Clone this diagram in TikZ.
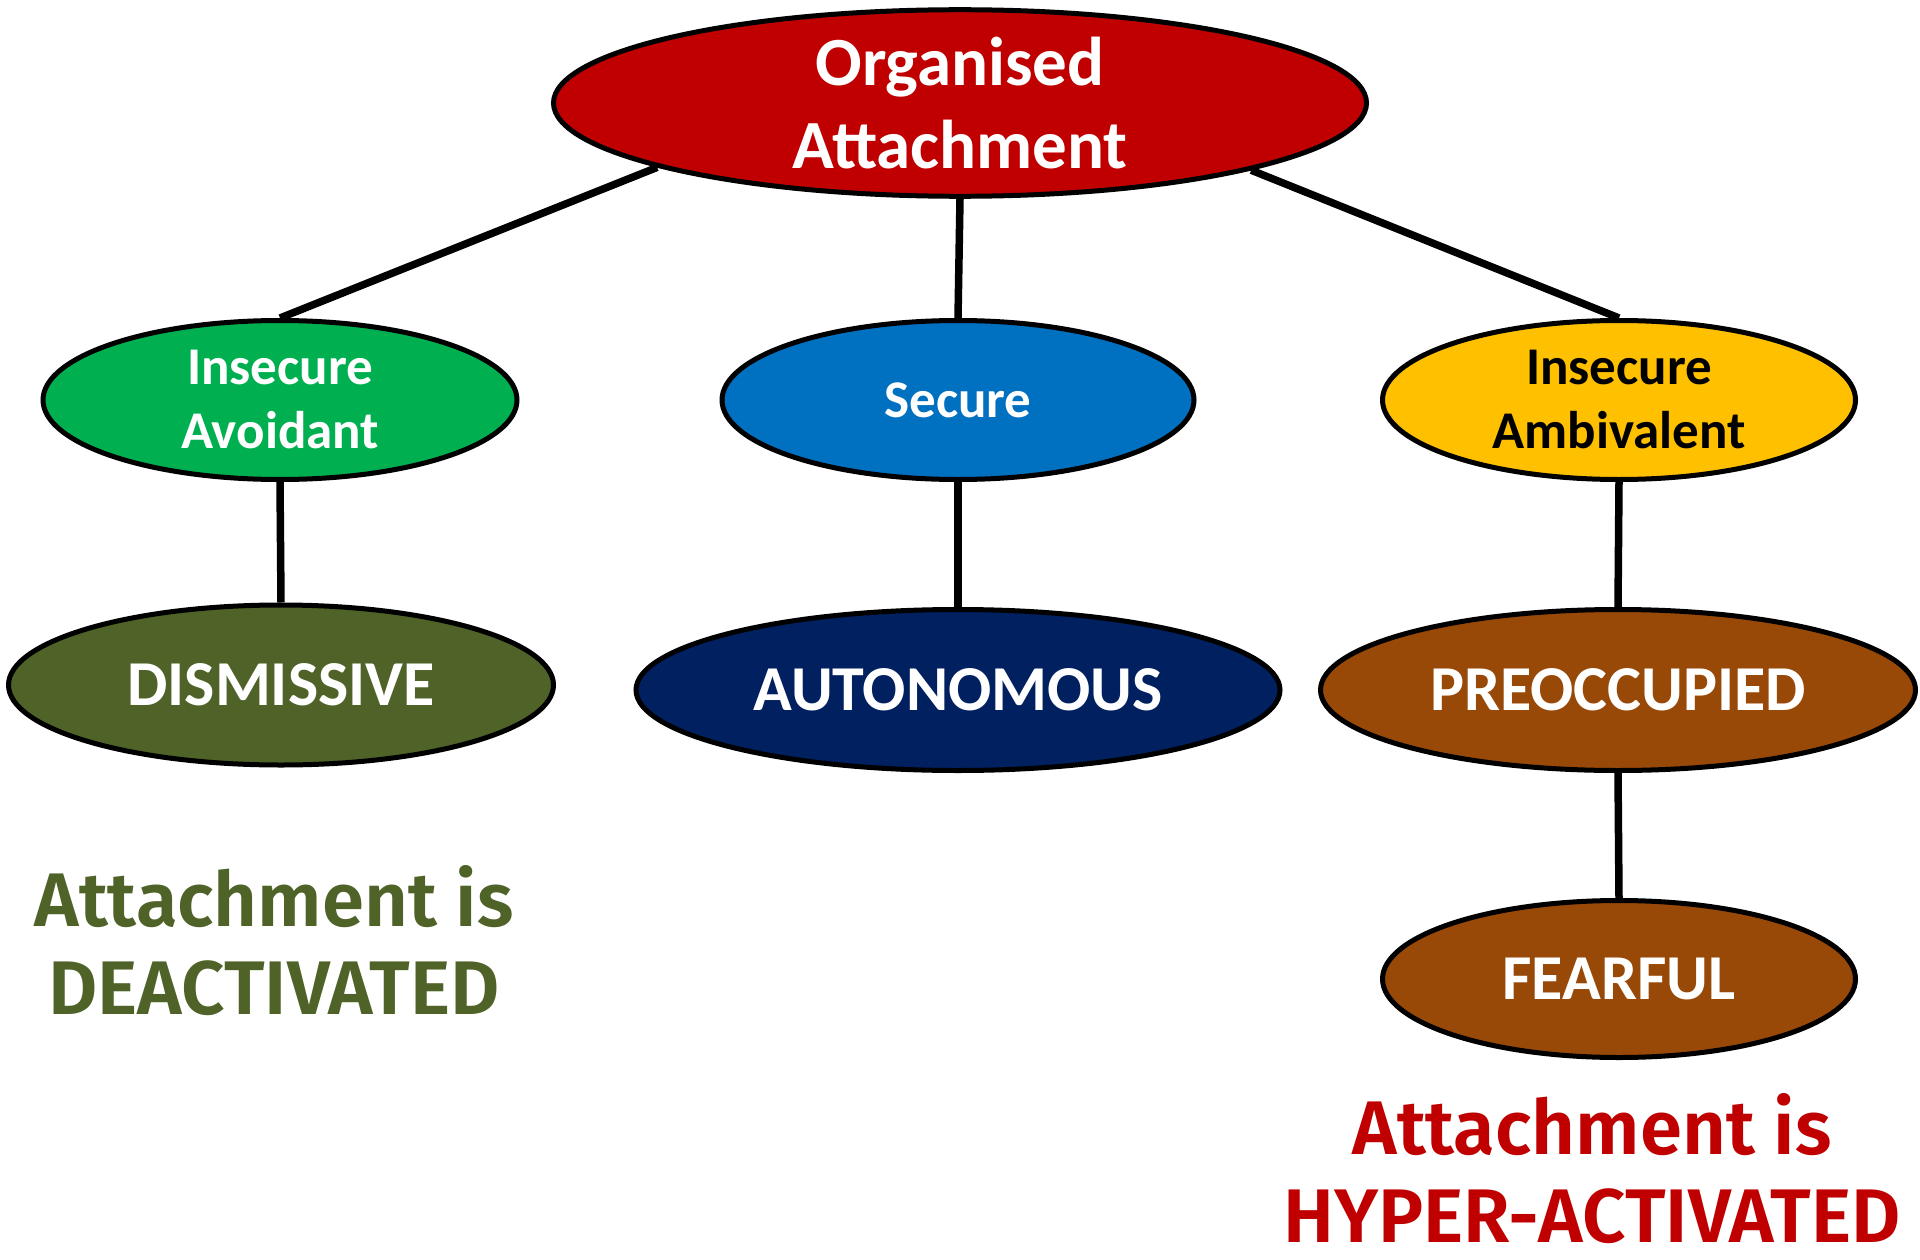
\documentclass[tikz,border=0pt]{standalone}
\usepackage{fontspec}
\setmainfont{Carlito}
\newfontfamily\capfont{Fira Sans}[BoldFont={Fira Sans SemiBold}]
\usetikzlibrary{shapes.geometric}

\definecolor{orgred}{HTML}{C00000}
\definecolor{avgreen}{HTML}{00B050}
\definecolor{secblue}{HTML}{0070C0}
\definecolor{ambyellow}{HTML}{FFC000}
\definecolor{disolive}{HTML}{4F6228}
\definecolor{autnavy}{HTML}{002060}
\definecolor{prebrown}{HTML}{984807}

\tikzset{
  bubble/.style={ellipse, draw=black, line width=5pt, inner sep=0pt,
    align=center, text=white, font=\bfseries},
  link/.style={draw=black, line width=7.5pt},
  caption/.style={align=center, inner sep=0pt, text depth=0pt,
    font=\capfont\bfseries\fontsize{76}{88}\selectfont}
}

\begin{document}
\begin{tikzpicture}[x=1pt, y=-1pt]
\useasboundingbox (0,0) rectangle (1920,1260);

% top level
\node[bubble, fill=orgred, minimum width=813pt, minimum height=181pt,
      font=\bfseries\fontsize{69}{83}\selectfont] (org) at (960,103)
  {Organised\\Attachment};

% second level
\node[bubble, fill=avgreen, minimum width=474pt, minimum height=159pt,
      font=\bfseries\fontsize{53}{64}\selectfont] (avoid) at (280,400)
  {Insecure\\Avoidant};
\node[bubble, fill=secblue, minimum width=472pt, minimum height=159pt,
      font=\bfseries\fontsize{53}{64}\selectfont] (secure) at (958,400)
  {Secure};
\node[bubble, fill=ambyellow, text=black, minimum width=473pt, minimum height=159pt,
      font=\bfseries\fontsize{53}{64}\selectfont] (ambiv) at (1619,400)
  {Insecure\\Ambivalent};

% adult categories
\node[bubble, fill=disolive, minimum width=545pt, minimum height=160pt,
      font=\bfseries\fontsize{64}{76}\selectfont] (dismiss) at (281,685)
  {DISMISSIVE};
\node[bubble, fill=autnavy, minimum width=644pt, minimum height=161pt,
      font=\bfseries\fontsize{64}{76}\selectfont] (auton) at (958,690)
  {AUTONOMOUS};
\node[bubble, fill=prebrown, minimum width=595pt, minimum height=161pt,
      font=\bfseries\fontsize{64}{76}\selectfont] (preocc) at (1618,690)
  {PREOCCUPIED};
\node[bubble, fill=prebrown, minimum width=473pt, minimum height=157pt,
      font=\bfseries\fontsize{64}{76}\selectfont] (fear) at (1619,979)
  {FEARFUL};

% connectors
\draw[link] (org.192.3) -- (avoid.north);
\draw[link] (org.south) -- (secure.north);
\draw[link] (org.-13.3) -- (ambiv.north);
\draw[link] (avoid.south) -- (dismiss.north);
\draw[link] (secure.south) -- (auton.north);
\draw[link] (ambiv.south) -- (preocc.north);
\draw[link] (preocc.south) -- (fear.north);

% activation notes
\node[caption, text=disolive, anchor=base] (deact) at (274,1014)
  {Attachment is\\DEACTIVATED};
\node[caption, text=orgred, anchor=base] (hyper) at (1592,1242)
  {Attachment is\\HYPER-ACTIVATED};
\end{tikzpicture}
\end{document}
